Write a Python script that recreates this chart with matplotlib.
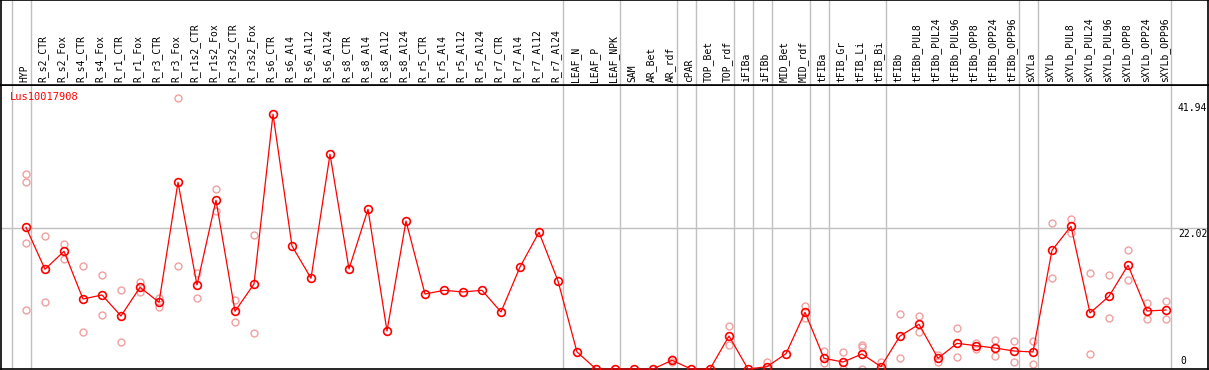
import matplotlib
matplotlib.use('Agg')
import matplotlib.pyplot as plt

# sample columns
samples = ['HYP', 'R_s2_CTR', 'R_s2_Fox', 'R_s4_CTR', 'R_s4_Fox', 'R_r1_CTR', 'R_r1_Fox',
           'R_r3_CTR', 'R_r3_Fox', 'R_r1s2_CTR', 'R_r1s2_Fox', 'R_r3s2_CTR', 'R_r3s2_Fox',
           'R_s6_CTR', 'R_s6_Al4', 'R_s6_Al12', 'R_s6_Al24', 'R_s8_CTR', 'R_s8_Al4',
           'R_s8_Al12', 'R_s8_Al24', 'R_r5_CTR', 'R_r5_Al4', 'R_r5_Al12', 'R_r5_Al24',
           'R_r7_CTR', 'R_r7_Al4', 'R_r7_Al12', 'R_r7_Al24', 'LEAF_N', 'LEAF_P', 'LEAF_NPK',
           'SAM', 'AR_Bet', 'AR_rdf', 'cPAR', 'TOP_Bet', 'TOP_rdf', 'iFIBa', 'iFIBb',
           'MID_Bet', 'MID_rdf', 'tFIBa', 'tFIB_Gr', 'tFIB_Li', 'tFIB_Bi', 'tFIBb',
           'tFIBb_PUL8', 'tFIBb_PUL24', 'tFIBb_PUL96', 'tFIBb_OPP8', 'tFIBb_OPP24',
           'tFIBb_OPP96', 'sXYLa', 'sXYLb', 'sXYLb_PUL8', 'sXYLb_PUL24', 'sXYLb_PUL96',
           'sXYLb_OPP8', 'sXYLb_OPP24', 'sXYLb_OPP96']

# mean expression
means = [22.13, 15.57, 18.38, 10.93, 11.56, 8.28, 12.76, 10.42, 29.16, 13.12, 26.35, 9.01, 13.28,
         39.78, 19.21, 14.17, 33.53, 15.62, 24.94, 5.93, 23.11, 11.71, 12.29, 12.03, 12.29,
         8.90, 15.93, 21.35, 13.74, 2.66, 0, 0, 0, 0, 1.36, 0, 0, 5.15, 0, 0.36,
         2.39, 8.86, 1.67, 1.09, 2.34, 0.36, 5.15, 6.98, 1.67, 4.01, 3.64, 3.28,
         2.81, 2.66, 18.54, 22.29, 8.75, 11.35, 16.20, 9.06, 9.21]

# replicates (pale circles)
reps = [[30.41, 29.16, 19.63, 9.17], [20.72, 10.42], [19.52, 17.23], [16.09, 5.78], [14.63, 8.43],
        [12.29, 4.22], [13.59, 12.03], [11.14, 9.73], [42.32, 16.09], [14.95, 11.04],
        [28.07, 24.68], [10.78, 7.29], [20.88, 5.58],
        [], [], [], [], [], [], [], [], [], [], [], [], [], [], [], [],
        [], [], [], [], [], [1.6, 1.1], [], [], [6.72, 3.70], [], [1.14, 0],
        [], [9.84, 8.01], [2.81, 0.98], [2.70, 0], [3.80, 3.48, 0], [1.14, 0], [8.54, 1.67],
        [8.23, 5.73], [2.19, 1.05], [6.40, 1.83], [4.11, 3.12], [4.53, 1.98], [4.37, 1.14],
        [4.37, 0.73], [22.76, 14.26], [23.43, 21.19], [14.95, 2.34], [14.63, 7.97],
        [18.54, 13.85], [10.35, 7.76], [10.62, 7.76]]

# last column of each group (gray separators)
group_ends = [-1, 0, 28, 31, 34, 35, 37, 38, 39, 41, 42, 45, 52, 53, 60]
yvals = [41.94, 22.02, 0]

gray = '#c0c0c0'
mono = 'DejaVu Sans Mono'
x = list(range(len(samples)))

fig = plt.figure(figsize=(12.09, 3.70), dpi=100)
W, H = 1209, 370
ax = fig.add_axes([1 / W, 1 / H, 1207 / W, 284 / H])
hd = fig.add_axes([1 / W, 285 / H, 1207 / W, 85 / H], sharex=ax)

xmin, xmax = -25 / 19, 1182 / 19
ax.set_xlim(xmin, xmax)
ax.set_ylim(0, 44.35)
hd.set_ylim(0, 1)

for a in (ax, hd):
    a.set_xticks([])
    a.set_yticks([])
    for s in a.spines.values():
        s.set_color('black')
        s.set_linewidth(1.2)
    for g in group_ends:
        a.axvline(g + 0.24, color=gray, lw=1, zorder=1)

ax.axhline(22.02, color=gray, lw=1, zorder=1)

# header labels
for i, s in enumerate(samples):
    hd.text(i - 0.1, 0.03, s, rotation=90, ha='center', va='bottom',
            fontsize=7, family=mono)

# replicates
rx = [i for i, r in enumerate(reps) for _ in r]
ry = [v for r in reps for v in r]
ax.plot(rx, ry, 'o', ms=5, mfc='none', mec='#f0a0a0', mew=1, clip_on=False, zorder=2)

# mean line
ax.plot(x, means, '-o', color='red', lw=0.9, ms=5.6, mfc='none', mec='red', mew=1.2,
        clip_on=False, zorder=3)

ax.text(0.007, 0.957, 'Lus10017908', transform=ax.transAxes, color='red',
        fontsize=7.5, family=mono, va='center')

xl = (1178 - 26) / 19
ax.annotate('%.2f' % yvals[0], (xl, yvals[0]), xytext=(0, -2), textcoords='offset points',
            va='top', fontsize=7, family=mono)
ax.annotate('%.2f' % yvals[1], (xl, yvals[1]), xytext=(0, -0.5), textcoords='offset points',
            va='top', fontsize=7, family=mono)
ax.annotate('%d' % yvals[2], (xl + 0.15, yvals[2]), xytext=(0, 2), textcoords='offset points',
            va='bottom', fontsize=7, family=mono)

fig.savefig('out.png', dpi=100)
